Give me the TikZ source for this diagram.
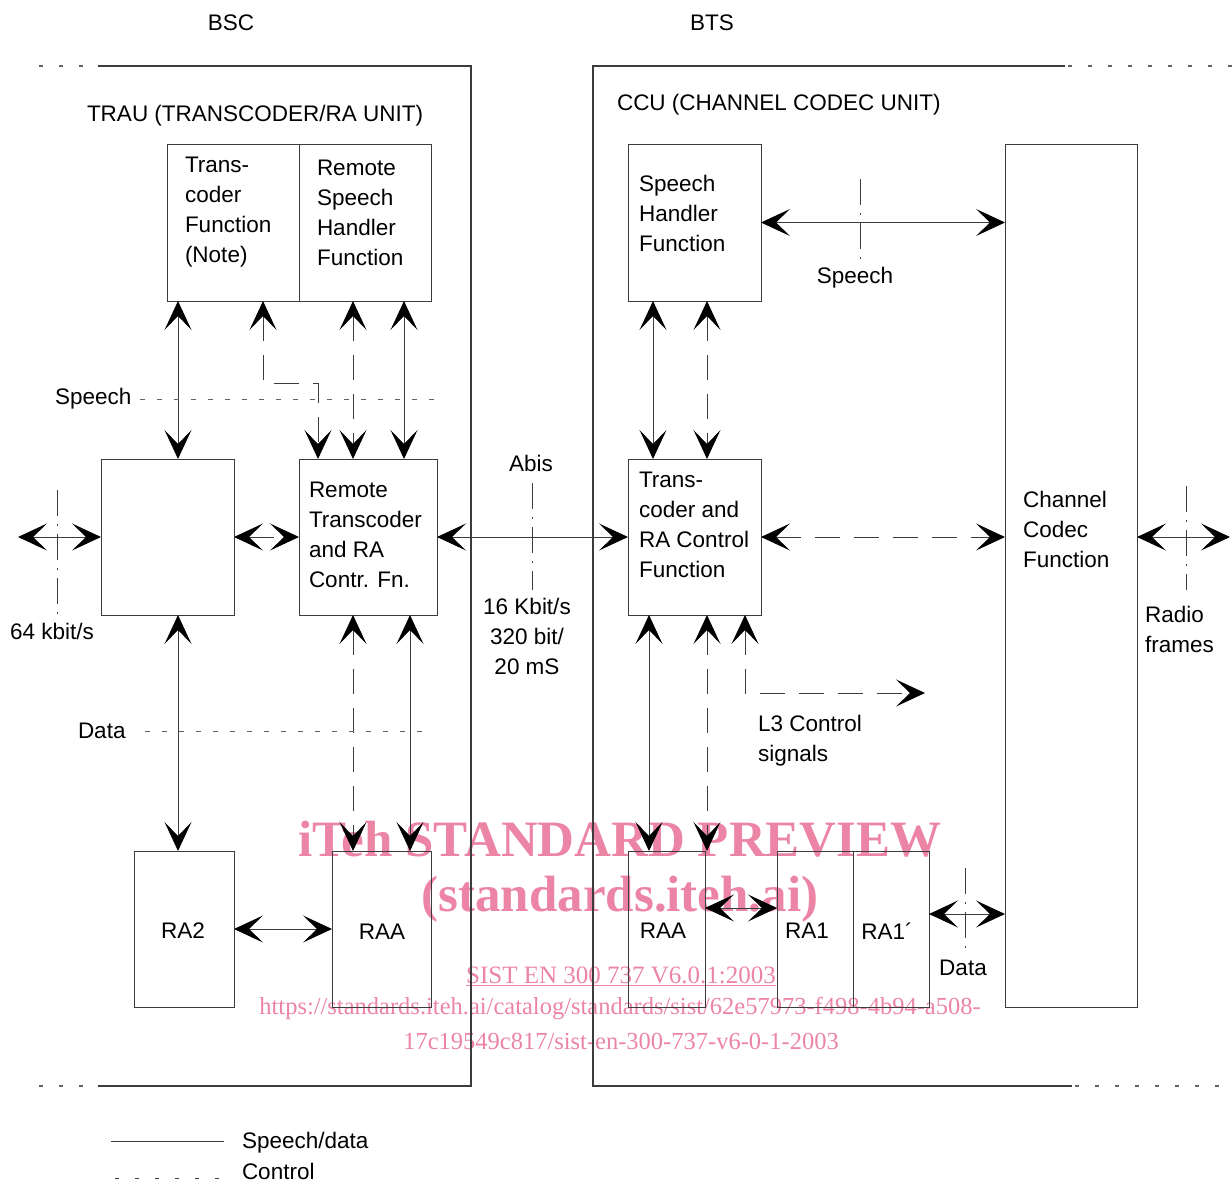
\documentclass[tikz,border=0pt]{standalone}
\usepackage{fontspec}
\setmainfont{Liberation Sans}
\newfontfamily\wmfont{Liberation Serif}
\usetikzlibrary{arrows.meta,calc}
\definecolor{wm}{RGB}{236,132,165}
\definecolor{ln}{RGB}{60,60,60}
\begin{document}
\begin{tikzpicture}[x=1pt,y=-1pt,
  every node/.style={inner sep=0pt,outer sep=0pt},
  >={Stealth[length=29pt,width=27pt,inset=14pt,color=black]},
  box/.style={draw=ln,line width=1pt,rectangle,inner sep=0pt,outer sep=0pt},
  txt/.style={font=\fontsize{22.5}{30}\selectfont},
  lbl/.style={txt,align=left,anchor=north west},
  sd/.style={draw=ln,line width=1pt,<->},
  cd/.style={draw=ln,line width=1pt,dash pattern=on 25pt off 14pt,<->},
  dotl/.style={draw=ln!80,line width=1pt,dash pattern=on 5pt off 12pt},
  ddl/.style={draw=ln,line width=1pt,dash pattern=on 26pt off 8pt on 2pt off 8pt},
  frame/.style={draw=ln,line width=1.2pt},
  fdash/.style={draw=ln!80,line width=1.2pt,dash pattern=on 4pt off 16pt},
  wmt/.style={text=wm,align=center}
]
\useasboundingbox (0,0) rectangle (1232,1183);

% watermark
\node[wmt,font=\wmfont\bfseries\fontsize{51}{51}\selectfont] (wm1) at (620,839) {iTeh STANDARD PREVIEW};
\node[wmt,font=\wmfont\bfseries\fontsize{51}{51}\selectfont] (wm2) at (620,899) {(standards.iteh.ai)};
\node[wmt,font=\wmfont\fontsize{25}{25}\selectfont] (wm3) at (621,976) {\underline{SIST EN 300 737 V6.0.1:2003}};
\node[wmt,font=\wmfont\fontsize{24.5}{24.5}\selectfont] (wm4) at (620,1009) {https://standards.iteh.ai/catalog/standards/sist/62e57973-f498-4b94-a508-};
\node[wmt,font=\wmfont\fontsize{24.5}{24.5}\selectfont] (wm5) at (621,1041) {17c19549c817/sist-en-300-737-v6-0-1-2003};

% frames
\draw[frame] (98,66) -- (471,66) -- (471,1086) -- (98,1086);
\draw[fdash] (39,66) -- (98,66);
\draw[fdash] (39,1086) -- (98,1086);
\draw[frame] (1065,66) -- (593,66) -- (593,1086) -- (1072,1086);
\draw[fdash] (1068,66) -- (1232,66);
\draw[fdash] (1075,1086) -- (1232,1086);

% titles
\node[txt] (bsc) at (231,23) {BSC};
\node[txt] (bts) at (712,23) {BTS};
\node[txt,anchor=west] (trau) at (87,116) {TRAU (TRANSCODER/RA UNIT)};
\node[txt,anchor=west] (ccu) at (617,105) {CCU (CHANNEL CODEC UNIT)};

% boxes
\node[box,minimum width=132pt,minimum height=157pt] (tcf) at (233,222.5) {};
\node[box,minimum width=132pt,minimum height=157pt] (rsh) at (365,222.5) {};
\node[box,minimum width=133pt,minimum height=156pt] (lb) at (167.5,537) {};
\node[box,minimum width=138pt,minimum height=156pt] (rtc) at (368,537) {};
\node[box,minimum width=100pt,minimum height=156pt] (ra2) at (184,929) {};
\node[box,minimum width=99pt,minimum height=156pt] (raal) at (381.5,929) {};
\node[box,minimum width=133pt,minimum height=157pt] (sh) at (694.5,222.5) {};
\node[box,minimum width=132pt,minimum height=863pt] (ccf) at (1071,575.5) {};
\node[box,minimum width=133pt,minimum height=156pt] (trc) at (694.5,537) {};
\node[box,minimum width=77pt,minimum height=156pt] (raar) at (666.5,929) {};
\node[box,minimum width=76pt,minimum height=156pt] (ra1) at (815,929) {};
\node[box,minimum width=76pt,minimum height=156pt] (ra1p) at (891,929) {};

% box texts
\node[lbl] (tcft) at (185,157) {Trans-\\coder\\Function\\(Note)};
\node[lbl] (rsht) at (317,160) {Remote\\Speech\\Handler\\Function};
\node[lbl] (rtct) at (309,482) {Remote\\Transcoder\\and RA\\Contr. Fn.};
\node[lbl] (sht) at (639,175) {Speech\\Handler\\Function};
\node[lbl] (trct) at (639,472) {Trans-\\coder and\\RA Control\\Function};
\node[lbl] (ccft) at (1023,491) {Channel\\Codec\\Function};
\node[txt] (ra2t) at (183,931) {RA2};
\node[txt] (raalt) at (382,932) {RAA};
\node[txt] (raart) at (663,931) {RAA};
\node[txt] (ra1t) at (807,931) {RA1};
\node[txt] (ra1pt) at (887,931) {RA1´};

% helper coordinates
\coordinate (v178) at (178,0);
\coordinate (v263) at (263,0);
\coordinate (v318) at (318,0);
\coordinate (v353) at (353,0);
\coordinate (v404) at (404,0);
\coordinate (v410) at (410,0);
\coordinate (v649) at (649,0);
\coordinate (v653) at (653,0);
\coordinate (v707) at (707,0);
\coordinate (v745) at (745,0);
\coordinate (h383) at (0,383);
\coordinate (h693) at (0,693);
\coordinate (h908) at (0,908);
\coordinate (h914) at (0,914);
\coordinate (lft) at (18,537);
\coordinate (rgt) at (1230,537);
\coordinate (l3end) at (925,693);

% BSC connectors
\draw[sd] (tcf.south -| v178) -- (lb.north -| v178);
\draw[cd] (tcf.south -| v263) -- (v263 |- h383) -- (v318 |- h383) -- (rtc.north -| v318);
\draw[cd] (rsh.south -| v353) -- (rtc.north -| v353);
\draw[sd] (rsh.south -| v404) -- (rtc.north -| v404);
\draw[sd] (lft) -- (lb.west);
\draw[cd] (lb.east) -- (rtc.west);
\draw[sd] (lb.south -| v178) -- (ra2.north -| v178);
\draw[cd] (rtc.south -| v353) -- (raal.north -| v353);
\draw[sd] (rtc.south -| v410) -- (raal.north -| v410);
\draw[sd] (ra2.east) -- (raal.west);

% Abis
\draw[sd] (rtc.east) -- (trc.west);

% BTS connectors
\draw[sd] (sh.east) -- (sh.east -| ccf.west);
\draw[sd] (sh.south -| v653) -- (trc.north -| v653);
\draw[cd] (sh.south -| v707) -- (trc.north -| v707);
\draw[cd] (trc.east) -- (trc.east -| ccf.west);
\draw[sd] (ccf.east |- rgt) -- (rgt);
\draw[sd] (trc.south -| v649) -- (raar.north -| v649);
\draw[cd] (trc.south -| v707) -- (raar.north -| v707);
\draw[cd] (trc.south -| v745) -- (v745 |- h693) -- (l3end);
\draw[sd] (raar.east |- h908) -- (ra1.west |- h908);
\draw[sd] (ra1p.east |- h914) -- (ccf.west |- h914);

% reference / boundary lines
\draw[dotl] (140,399) -- (436,399);
\draw[dotl] (145,731) -- (430,731);
\draw[ddl] (57,490) -- (57,620);
\draw[ddl] (532,483) -- (532,590);
\draw[ddl] (860,179) -- (860,263);
\draw[ddl] (1186,486) -- (1186,590);
\draw[ddl] (965,868) -- (965,950);

% labels
\node[txt,anchor=west] (speechl) at (55,399) {Speech};
\node[txt,anchor=west] (datal) at (78,731) {Data};
\node[txt,anchor=west] (kbit) at (10,631) {64 kbit/s};
\node[txt] (abis) at (531,463) {Abis};
\node[txt,align=center,anchor=north] (rate) at (527,598) {16 Kbit/s\\320 bit/\\20 mS};
\node[txt] (speechr) at (855,278) {Speech};
\node[lbl] (radio) at (1145,606) {Radio\\frames};
\node[lbl] (l3) at (758,715) {L3 Control\\signals};
\node[txt] (datar) at (963,968) {Data};

% legend
\coordinate (lg1a) at (111,1141);
\coordinate (lg1b) at (224,1141);
\coordinate (lg2a) at (115,1178);
\coordinate (lg2b) at (220,1178);
\draw[draw=ln,line width=1pt] (lg1a) -- (lg1b);
\draw[draw=ln,line width=1pt,dash pattern=on 4pt off 16pt] (lg2a) -- (lg2b);
\node[txt,anchor=west] (lgs) at (242,1143) {Speech/data};
\node[txt,anchor=west] (lgc) at (242,1171) {Control};
\end{tikzpicture}
\end{document}
